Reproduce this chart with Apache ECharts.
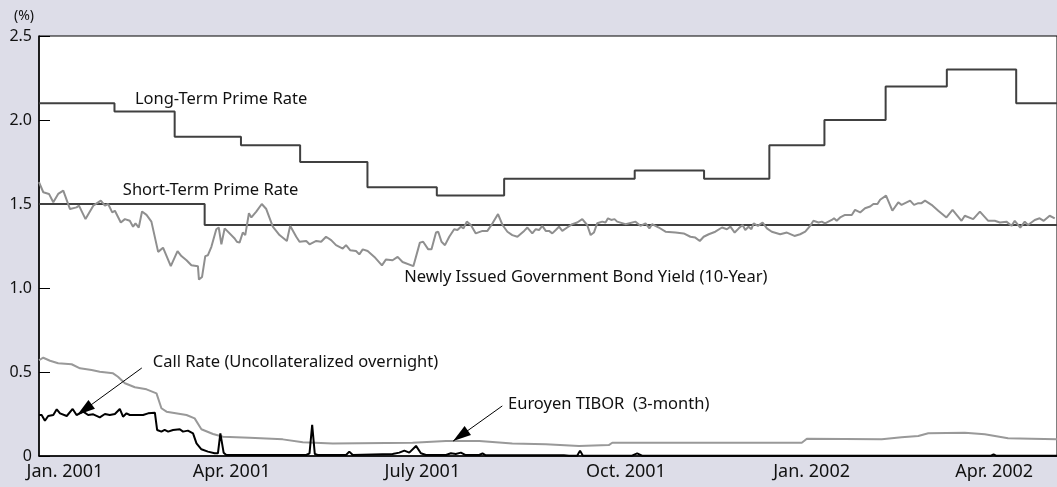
<!DOCTYPE html>
<html>
<head>
<meta charset="utf-8">
<script src="https://cdn.jsdelivr.net/npm/echarts@6/dist/echarts.min.js"></script>
<style>
  html, body { margin: 0; padding: 0; background: #dddde8; }
  #chart { width: 1057px; height: 487px; }
</style>
</head>
<body>
<div id="chart"></div>
<script>
// x values are days counted from 1 Jan 2001
const xTickDays = [12.7, 94.4, 187.9, 287.7, 378.7, 468.2];
const xTickLabels = ['Jan. 2001', 'Apr. 2001', 'July 2001', 'Oct. 2001', 'Jan. 2002', 'Apr. 2002'];

// Long-Term Prime Rate (change days / levels)
const longDays = [0, 37, 66.5, 99, 128, 161, 195, 228, 292, 326, 358, 385, 415, 445, 479, 499];
const longRate = [2.10, 2.05, 1.90, 1.85, 1.75, 1.60, 1.55, 1.65, 1.70, 1.65, 1.85, 2.00, 2.20, 2.30, 2.10, 2.10];

// Short-Term Prime Rate
const shortDays = [0, 81.2, 499];
const shortRate = [1.5, 1.375, 1.375];

// Newly Issued Government Bond Yield (10-Year)
const yieldDays = [0, 2.1, 4.9, 7.0, 9.4, 11.9, 15.2, 18.4, 19.6, 22.8, 26.6, 30.3, 32.3, 33.9, 35.9, 37.2, 40.1, 42.1, 44.5, 46.1,
  47.3, 48.9, 50.5, 52.7, 55.1, 58.4, 60.8, 64.6, 67.9, 69.8, 72.3, 74.7, 77.9, 78.4, 79.9, 81.5, 82.8, 84.5, 86.9, 88.1,
  89.4, 91.0, 95.9, 97.0, 98.3, 99.9, 101.1, 102.9, 104.1, 106.5, 109.2, 111.4, 114.6, 117.9, 121.5, 123.1, 126.1, 127.7, 131.0, 132.6,
  135.9, 138.3, 140.7, 143.2, 145.6, 148.9, 150.5, 152.5, 155.4, 157.0, 158.7, 161.1, 164.4, 168.1, 170.1, 173.3, 175.8, 178.2, 183.5, 186.7,
  188.3, 190.8, 192.4, 194.6, 195.7, 197.3, 199.0, 201.1, 203.5, 205.1, 206.8, 208.1, 209.7, 211.7, 214.1, 217.4, 219.8, 222.3, 225.0, 227.2,
  229.6, 232.0, 234.5, 237.8, 239.4, 241.8, 243.5, 245.1, 246.7, 248.4, 250.0, 251.6, 253.3, 254.9, 256.5, 258.9, 261.4, 263.8, 266.3, 268.7,
  270.4, 272.0, 273.6, 276.1, 277.7, 278.9, 280.5, 282.1, 283.4, 287.5, 292.4, 294.8, 297.3, 299.2, 300.5, 303.8, 307.1, 312.0, 316.0, 319.3,
  321.7, 323.9, 325.8, 328.3, 331.5, 334.8, 337.2, 338.9, 341.0, 343.0, 344.9, 346.2, 347.8, 349.2, 350.3, 352.4, 354.7, 356.8, 359.2, 363.3,
  366.6, 370.3, 373.1, 375.6, 378.0, 379.6, 382.1, 383.7, 385.3, 388.6, 389.7, 391.0, 392.7, 395.1, 398.4, 400.0, 402.5, 404.9, 407.4, 409.0,
  411.0, 412.3, 415.2, 418.3, 421.2, 422.8, 427.0, 428.9, 431.0, 432.6, 434.3, 437.5, 440.8, 444.8, 447.8, 452.2, 453.8, 457.9, 461.2, 465.3,
  468.5, 471.0, 474.2, 476.7, 478.3, 481.0, 483.2, 484.8, 488.1, 490.5, 492.5, 495.4, 497.9];
const yieldRate = [1.63, 1.57, 1.56, 1.51, 1.56, 1.58, 1.47, 1.48, 1.49, 1.41, 1.49, 1.52, 1.49, 1.50, 1.45, 1.46, 1.39, 1.41, 1.40, 1.365,
  1.385, 1.36, 1.455, 1.435, 1.395, 1.215, 1.24, 1.13, 1.22, 1.19, 1.165, 1.135, 1.13, 1.05, 1.065, 1.19, 1.195, 1.245, 1.35, 1.36,
  1.26, 1.355, 1.295, 1.275, 1.27, 1.33, 1.315, 1.445, 1.42, 1.455, 1.50, 1.47, 1.365, 1.315, 1.28, 1.37, 1.305, 1.275, 1.28, 1.26,
  1.28, 1.275, 1.305, 1.285, 1.255, 1.235, 1.255, 1.225, 1.22, 1.20, 1.23, 1.22, 1.185, 1.135, 1.17, 1.165, 1.185, 1.155, 1.13, 1.27,
  1.275, 1.23, 1.23, 1.33, 1.335, 1.275, 1.255, 1.305, 1.35, 1.345, 1.365, 1.355, 1.395, 1.375, 1.325, 1.34, 1.34, 1.385, 1.44, 1.375,
  1.335, 1.315, 1.305, 1.34, 1.36, 1.325, 1.35, 1.345, 1.37, 1.34, 1.34, 1.325, 1.345, 1.365, 1.34, 1.36, 1.38, 1.39, 1.41, 1.375,
  1.315, 1.33, 1.385, 1.395, 1.39, 1.415, 1.405, 1.41, 1.395, 1.38, 1.395, 1.37, 1.385, 1.355, 1.38, 1.36, 1.335, 1.33, 1.325, 1.305,
  1.30, 1.28, 1.305, 1.32, 1.335, 1.36, 1.35, 1.365, 1.33, 1.355, 1.375, 1.345, 1.365, 1.35, 1.385, 1.37, 1.39, 1.355, 1.335, 1.32,
  1.33, 1.31, 1.32, 1.335, 1.37, 1.40, 1.39, 1.395, 1.385, 1.405, 1.415, 1.40, 1.42, 1.435, 1.435, 1.465, 1.45, 1.475, 1.485, 1.50,
  1.50, 1.525, 1.55, 1.46, 1.51, 1.495, 1.52, 1.495, 1.505, 1.505, 1.52, 1.495, 1.46, 1.42, 1.465, 1.40, 1.43, 1.41, 1.455, 1.40,
  1.40, 1.39, 1.395, 1.37, 1.40, 1.36, 1.395, 1.375, 1.405, 1.415, 1.40, 1.43, 1.415];

// Euroyen TIBOR (3-month)
const tiborDays = [0, 2.1, 5.4, 9.4, 16.0, 20.1, 25.8, 29.8, 36.3, 38.7, 42.1, 47.0, 52.7, 57.6, 60.0, 62.5, 72.3, 76.3, 79.6, 85.3,
  90.2, 103.2, 119.5, 129.3, 144.0, 183.1, 199.5, 215.8, 232.0, 248.4, 264.7, 279.3, 281.0, 373.9, 376.4, 413.1, 422.8, 431.0, 435.9, 453.8,
  463.6, 475.0, 486.4, 499];
const tiborRate = [0.57, 0.585, 0.567, 0.552, 0.546, 0.522, 0.512, 0.502, 0.492, 0.472, 0.433, 0.409, 0.397, 0.373, 0.284, 0.264, 0.244, 0.224, 0.159, 0.131,
  0.115, 0.109, 0.099, 0.082, 0.075, 0.079, 0.089, 0.089, 0.075, 0.070, 0.060, 0.065, 0.079, 0.079, 0.103, 0.099, 0.111, 0.119, 0.135, 0.139,
  0.129, 0.105, 0.103, 0.099];

// Call Rate (Uncollateralized overnight)
const callDays = [0, 1.3, 2.9, 4.5, 7.0, 8.7, 10.3, 13.6, 16.5, 18.4, 21.7, 24.1, 26.6, 29.8, 32.3, 34.7, 37.2, 39.6, 41.2, 42.9,
  44.5, 51.0, 53.5, 56.8, 57.9, 60.0, 61.6, 63.3, 65.7, 69.0, 70.6, 73.0, 75.5, 77.2, 79.6, 82.8, 86.1, 87.7, 88.9, 90.5,
  91.8, 131.0, 132.6, 133.9, 135.2, 136.6, 150.5, 152.1, 153.8, 173.3, 176.6, 179.1, 181.5, 184.8, 187.2, 189.7, 199.5, 201.9, 204.3, 206.8,
  208.9, 215.8, 217.4, 219.0, 257.3, 259.8, 263.8, 265.2, 266.6, 290.7, 293.2, 295.6, 466.7, 467.9, 469.1, 499];
const callRate = [0.244, 0.244, 0.21, 0.238, 0.244, 0.278, 0.254, 0.238, 0.28, 0.244, 0.264, 0.244, 0.248, 0.23, 0.25, 0.244, 0.25, 0.28, 0.234, 0.254,
  0.244, 0.244, 0.254, 0.258, 0.155, 0.145, 0.155, 0.145, 0.155, 0.159, 0.145, 0.151, 0.135, 0.075, 0.04, 0.026, 0.016, 0.016, 0.135, 0.02,
  0.006, 0.006, 0.016, 0.185, 0.012, 0.006, 0.006, 0.026, 0.006, 0.012, 0.02, 0.032, 0.02, 0.06, 0.016, 0.006, 0.006, 0.016, 0.012, 0.02,
  0.006, 0.006, 0.016, 0.004, 0.004, 0.002, 0.002, 0.032, 0.002, 0.002, 0.016, 0.002, 0.002, 0.01, 0.002, 0.002];

// arrows (from label -> to line), in [day, value]
const callArrow = [[50.4, 0.524], [18.7, 0.244]];
const tiborArrow = [[227.1, 0.298], [203.0, 0.089]];

const zip = (xs, ys) => xs.map((x, i) => [x, ys[i]]);

const txtStyle = { color: '#111', fontSize: 16.5, fontFamily: 'Noto Sans' };

// annotation text anchored at its left/middle point
function note(text, day, val) {
  return {
    coord: [day, val],
    symbol: 'circle',
    symbolSize: 0,
    label: { show: true, position: 'right', distance: 0, formatter: text, ...txtStyle }
  };
}

function arrowLine(pair) {
  return {
    silent: true,
    symbol: ['none', 'none'],
    lineStyle: { color: '#000', width: 1, type: 'solid' },
    label: { show: false },
    data: [[{ coord: pair[0] }, { coord: pair[1] }]]
  };
}

let chart = echarts.init(document.getElementById('chart'));

let option = {
  animation: false,
  backgroundColor: '#dddde8',
  grid: {
    show: true,
    left: 39,
    top: 36,
    right: -2,
    bottom: 31,
    backgroundColor: '#ffffff',
    borderColor: '#000000',
    borderWidth: 1
  },
  xAxis: {
    type: 'value',
    min: 0,
    max: 499,
    splitLine: { show: false },
    axisTick: { show: false },
    axisLine: { show: true, lineStyle: { color: '#000', width: 1.5 } },
    axisLabel: {
      customValues: xTickDays,
      margin: 7,
      color: '#111',
      fontSize: 18,
      fontFamily: 'Noto Sans',
      formatter: (v) => {
        let i = xTickDays.findIndex(d => Math.abs(d - v) < 0.01);
        return i >= 0 ? xTickLabels[i] : '';
      }
    }
  },
  yAxis: {
    type: 'value',
    min: 0,
    max: 2.5,
    interval: 0.5,
    name: '(%)',
    nameLocation: 'end',
    nameGap: 13,
    nameTextStyle: { color: '#111', fontSize: 14, fontFamily: 'Noto Sans', align: 'right', padding: [0, 5, 0, 0] },
    splitLine: { show: false },
    axisLine: { show: true, lineStyle: { color: '#000', width: 1.5 } },
    axisTick: { show: true, inside: true, length: 11, lineStyle: { color: '#000', width: 1 } },
    axisLabel: {
      margin: 7,
      color: '#111',
      fontSize: 16,
      fontFamily: 'Noto Sans',
      formatter: (v) => (v === 0 ? '0' : v.toFixed(1))
    }
  },
  series: [
    {
      name: 'Long-Term Prime Rate',
      type: 'line',
      step: 'end',
      data: zip(longDays, longRate),
      showSymbol: false,
      lineStyle: { color: '#404040', width: 2 },
      markPoint: { silent: true, data: [note('Long-Term Prime Rate', 47, 2.125)] }
    },
    {
      name: 'Short-Term Prime Rate',
      type: 'line',
      step: 'end',
      data: zip(shortDays, shortRate),
      showSymbol: false,
      lineStyle: { color: '#404040', width: 2 },
      markPoint: { silent: true, data: [note('Short-Term Prime Rate', 41.1, 1.583)] }
    },
    {
      name: 'Newly Issued Government Bond Yield (10-Year)',
      type: 'line',
      data: zip(yieldDays, yieldRate),
      showSymbol: false,
      lineStyle: { color: '#8f8f8f', width: 2 },
      markPoint: { silent: true, data: [note('Newly Issued Government Bond Yield (10-Year)', 179, 1.065)] }
    },
    {
      name: 'Euroyen TIBOR (3-month)',
      type: 'line',
      data: zip(tiborDays, tiborRate),
      showSymbol: false,
      lineStyle: { color: '#999999', width: 2 },
      markLine: arrowLine(tiborArrow)
    },
    {
      name: 'Call Rate (Uncollateralized overnight)',
      type: 'line',
      data: zip(callDays, callRate),
      showSymbol: false,
      lineStyle: { color: '#000000', width: 2 },
      markLine: arrowLine(callArrow)
    }
  ]
};

chart.setOption(option);

// arrow head: a rotated triangle whose tip sits on the line end
const headLen = 18;
function arrowHead(pair) {
  let a = chart.convertToPixel({ gridIndex: 0 }, pair[0]);
  let b = chart.convertToPixel({ gridIndex: 0 }, pair[1]);
  let dx = b[0] - a[0], dy = b[1] - a[1];
  let len = Math.sqrt(dx * dx + dy * dy);
  let c = [b[0] - dx / len * headLen / 2, b[1] - dy / len * headLen / 2];
  return {
    coord: chart.convertFromPixel({ gridIndex: 0 }, c),
    symbol: 'triangle',
    symbolSize: [11, headLen],
    symbolRotate: Math.atan2(-dy, dx) * 180 / Math.PI - 90,
    itemStyle: { color: '#000' },
    label: { show: false }
  };
}

chart.setOption({
  series: [
    {}, {}, {},
    { markPoint: { silent: true, data: [note('Euroyen TIBOR  (3-month)', 229.9, 0.31), arrowHead(tiborArrow)] } },
    { markPoint: { silent: true, data: [note('Call Rate (Uncollateralized overnight)', 55.8, 0.56), arrowHead(callArrow)] } }
  ]
});
</script>
</body>
</html>
